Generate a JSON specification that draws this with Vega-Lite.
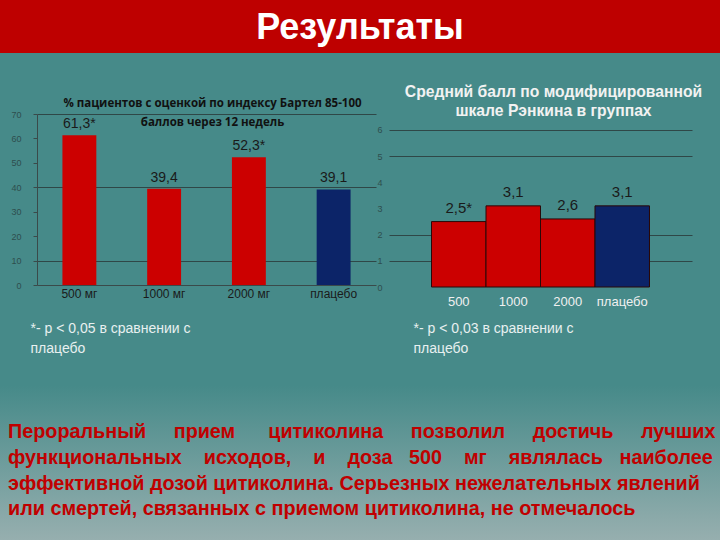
{
  "$schema": "https://vega.github.io/schema/vega-lite/v6.json",
  "background": "#468a89",
  "padding": 0,
  "spacing": 31,
  "config": {
    "view": {"stroke": null},
    "font": "Liberation Sans"
  },
  "datasets": {
    "banner": [{"t": "Результаты"}],
    "barthel": [
      {"group": "500 мг", "value": 61.3, "label": "61,3*", "kind": "цитиколин"},
      {"group": "1000 мг", "value": 39.4, "label": "39,4", "kind": "цитиколин"},
      {"group": "2000 мг", "value": 52.3, "label": "52,3*", "kind": "цитиколин"},
      {"group": "плацебо", "value": 39.1, "label": "39,1", "kind": "плацебо"}
    ],
    "rankin": [
      {"group": "500", "value": 2.5, "label": "2,5*", "kind": "цитиколин"},
      {"group": "1000", "value": 3.1, "label": "3,1", "kind": "цитиколин"},
      {"group": "2000", "value": 2.6, "label": "2,6", "kind": "цитиколин"},
      {"group": "плацебо", "value": 3.1, "label": "3,1", "kind": "плацебо"}
    ],
    "para": [
      {"line": 1, "text": "Пероральный \u00a0\u00a0\u00a0\u00a0прием \u00a0\u00a0\u00a0\u00a0\u00a0цитиколина \u00a0\u00a0\u00a0\u00a0позволил \u00a0\u00a0\u00a0\u00a0достичь \u00a0\u00a0\u00a0\u00a0лучших"},
      {"line": 2, "text": "функциональных \u00a0\u00a0\u00a0исходов, \u00a0\u00a0\u00a0и \u00a0\u00a0\u00a0доза \u00a0\u00a0500 \u00a0\u00a0\u00a0мг \u00a0\u00a0\u00a0являлась \u00a0\u00a0наиболее"},
      {"line": 3, "text": "эффективной дозой цитиколина. Серьезных нежелательных явлений"},
      {"line": 4, "text": "или смертей, связанных с приемом  цитиколина, не отмечалось"}
    ]
  },
  "vconcat": [
    {
      "width": 720,
      "height": 53,
      "view": {"fill": "#be0000", "stroke": null},
      "data": {"name": "banner"},
      "mark": {"type": "text", "font": "Liberation Sans", "fontWeight": "bold", "fontSize": 36, "color": "#ffffff", "baseline": "middle", "dy": 1},
      "encoding": {"text": {"field": "t", "type": "nominal"}}
    },
    {
      "hconcat": [
        {
          "width": 24,
          "height": 171,
          "data": {"name": "barthel"},
          "mark": {"type": "tick", "opacity": 0},
          "encoding": {
            "y": {
              "field": "value", "type": "quantitative",
              "scale": {"domain": [0, 70], "nice": false},
              "axis": {
                "values": [0, 10, 20, 30, 40, 50, 60, 70], "labelFontSize": 9, "labelColor": "#2e4e4e",
                "ticks": false, "domain": false, "grid": false, "labelPadding": 3,
                "offset": -24, "minExtent": 0, "title": null
              }
            }
          }
        },
        {
          "width": 339,
          "height": 171,
          "data": {"name": "barthel"},
          "title": {
            "text": ["% пациентов с оценкой по индексу Бартел 85-100", "баллов через 12 недель"],
            "font": "Open Sans",
            "fontSize": 11.5,
            "fontWeight": "bold",
            "color": "#111111",
            "lineHeight": 19,
            "offset": -15,
            "anchor": "middle",
            "dx": 6
          },
          "layer": [
            {
              "mark": {"type": "bar"},
              "encoding": {
                "x": {
                  "field": "group", "type": "nominal", "sort": null,
                  "scale": {"paddingInner": 0.6, "paddingOuter": 0.3},
                  "axis": {
                    "labelAngle": 0, "labelFontSize": 12, "labelColor": "#1a1a1a", "labelPadding": 3,
                    "ticks": false, "domain": true, "domainColor": "#3a4a4a", "grid": false,
                    "title": ["*- p < 0,05 в сравнении с", "плацебо"],
                    "titleFont": "Liberation Sans", "titleFontSize": 14, "titleFontWeight": "normal",
                    "titleColor": "#e8f0f0", "titleAnchor": "start", "titleAlign": "left",
                    "titleBaseline": "top", "titleX": -7, "titleY": 36, "titleLineHeight": 20
                  }
                },
                "y": {
                  "field": "value", "type": "quantitative",
                  "scale": {"domain": [0, 70], "nice": false},
                  "axis": {
                    "values": [0, 10, 20, 30, 40, 50, 60, 70], "labels": false,
                    "ticks": true, "tickSize": 4, "tickColor": "#3a4a4a", "domain": true, "domainColor": "#3a4a4a",
                    "grid": false, "minExtent": 0, "title": null
                  }
                },
                "color": {
                  "field": "kind", "type": "nominal",
                  "scale": {"domain": ["цитиколин", "плацебо"], "range": ["#cc0000", "#0c2468"]},
                  "legend": null
                }
              }
            },
            {
              "mark": {"type": "text", "baseline": "bottom", "dy": -4, "fontSize": 14, "color": "#1a1a1a", "font": "Liberation Sans"},
              "encoding": {
                "x": {"field": "group", "type": "nominal", "sort": null},
                "y": {
                  "field": "value", "type": "quantitative",
                  "axis": {
                    "orient": "right", "values": [10, 40, 70], "grid": true, "gridColor": "#2f4747",
                    "labels": false, "ticks": false, "domain": false, "title": null
                  }
                },
                "text": {"field": "label", "type": "nominal"}
              }
            }
          ],
          "resolve": {"axis": {"y": "independent"}}
        },
        {
          "width": 303,
          "height": 173,
          "data": {"name": "rankin"},
          "title": {
            "text": ["Средний балл по модифицированной", "шкале Рэнкина в группах"],
            "font": "Liberation Sans",
            "fontSize": 15.7,
            "fontWeight": "bold",
            "color": "#f2f2f2",
            "lineHeight": 19,
            "offset": -6,
            "anchor": "middle",
            "dx": 13
          },
          "layer": [
            {
              "mark": {"type": "bar", "stroke": "#2a0808", "strokeWidth": 1},
              "encoding": {
                "x": {
                  "field": "group", "type": "nominal", "sort": null,
                  "scale": {"paddingInner": 0, "paddingOuter": 0.78},
                  "axis": {
                    "labelAngle": 0, "labelFontSize": 13, "labelColor": "#f0f0f0", "labelPadding": 8,
                    "ticks": false, "domain": false, "grid": false,
                    "title": ["*- p < 0,03 в сравнении с", "плацебо"],
                    "titleFont": "Liberation Sans", "titleFontSize": 14, "titleFontWeight": "normal",
                    "titleColor": "#e8f0f0", "titleAnchor": "start", "titleAlign": "left",
                    "titleBaseline": "top", "titleX": 24, "titleY": 34, "titleLineHeight": 20
                  }
                },
                "y": {
                  "field": "value", "type": "quantitative",
                  "scale": {"domain": [0, 6.61], "nice": false},
                  "axis": {
                    "values": [0, 1, 2, 3, 4, 5, 6], "labelFontSize": 9, "labelColor": "#2e4e4e",
                    "ticks": false, "domain": false, "grid": false, "labelPadding": 7, "title": null
                  }
                },
                "color": {
                  "field": "kind", "type": "nominal",
                  "scale": {"domain": ["цитиколин", "плацебо"], "range": ["#cc0000", "#0c2468"]},
                  "legend": null
                }
              }
            },
            {
              "mark": {"type": "text", "baseline": "bottom", "dy": -6, "fontSize": 15, "color": "#1a1a1a", "font": "Liberation Sans"},
              "encoding": {
                "x": {"field": "group", "type": "nominal", "sort": null},
                "y": {
                  "field": "value", "type": "quantitative",
                  "axis": {
                    "orient": "right", "values": [1, 2, 5, 6], "grid": true, "gridColor": "#2f4747",
                    "labels": false, "ticks": false, "domain": false, "title": null
                  }
                },
                "text": {"field": "label", "type": "nominal"}
              }
            }
          ],
          "resolve": {"axis": {"y": "independent"}}
        }
      ],
      "bounds": "flush",
      "spacing": 13
    },
    {
      "width": 720,
      "height": 155,
      "view": {"fill": {"gradient": "linear", "x1": 0, "y1": 0, "x2": 0, "y2": 1, "stops": [{"offset": 0, "color": "#468a89"}, {"offset": 1, "color": "#97afaf"}]}, "stroke": null},
      "data": {"name": "para"},
      "mark": {"type": "text", "align": "left", "baseline": "middle", "font": "Liberation Sans", "fontWeight": "bold", "fontSize": 19.8, "color": "#c00000", "dx": 8},
      "encoding": {
        "x": {"value": 0},
        "y": {
          "field": "line", "type": "ordinal",
          "scale": {"type": "band", "paddingInner": 0, "paddingOuter": 1.176, "align": 0.64},
          "axis": null
        },
        "text": {"field": "text", "type": "nominal"}
      }
    }
  ]
}
